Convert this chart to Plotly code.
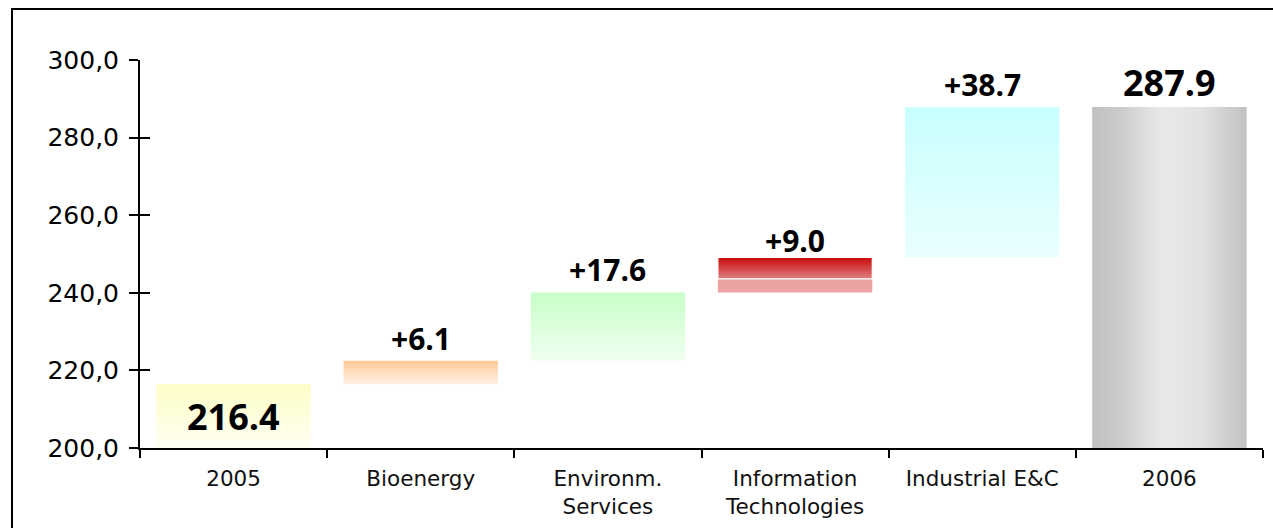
import json
import plotly.graph_objects as go

# Waterfall: net sales bridge 2005 -> 2006
categories = ["2005", "Bioenergy", "Environm.<br>Services",
              "Information<br>Technologies", "Industrial E&C", "2006"]
start_total = 216.4
changes = [6.1, 17.6, 9.0, 38.7]
end_total = 287.9
# Information Technologies is shown as two stacked parts (lower, upper)
it_parts = [3.5, 5.5]

y_ticks = [200, 220, 240, 260, 280, 300]
y_ticktext = ["200,0", "220,0", "240,0", "260,0", "280,0", "300,0"]

# Fill gradients (top -> bottom, or left -> right for the total bar)
gradients = [
    {"id": "g2005", "horizontal": False, "stops": [[0, "#fdfdc6"], [1, "#fffff4"]]},
    {"id": "gbio", "horizontal": False, "stops": [[0, "#ffca98"], [1, "#fff0e6"]]},
    {"id": "genv", "horizontal": False, "stops": [[0, "#c8fec8"], [1, "#effff0"]]},
    {"id": "gitlo", "horizontal": False, "stops": [[0, "#eba0a0"], [1, "#eda4a4"]]},
    {"id": "githi", "horizontal": False, "stops": [[0, "#c80a0a"], [1, "#e08080"]]},
    {"id": "gind", "horizontal": False, "stops": [[0, "#c8ffff"], [1, "#eaffff"]]},
    {"id": "g2006", "horizontal": True,
     "stops": [[0, "#c0c0c0"], [0.2, "#cdcdcd"], [0.45, "#e9e9e9"],
               [0.7, "#e2e2e2"], [1, "#c2c2c2"]]},
]
fallback = ["#fefed8", "#ffdcb8", "#dcffdc", "#eca2a2", "#d84040", "#dcffff", "#d6d6d6"]

BAR_W = 0.825

# bases and heights of every drawn segment
bases, heights, cats = [], [], []
bases.append(200.0); heights.append(start_total - 200.0); cats.append(categories[0])
level = start_total
for cat, ch in zip(categories[1:5], changes):
    if cat.startswith("Information"):
        sub = level
        for part in it_parts:
            bases.append(sub); heights.append(part); cats.append(cat)
            sub += part
    else:
        bases.append(level); heights.append(ch); cats.append(cat)
    level += ch
bases.append(200.0); heights.append(end_total - 200.0); cats.append(categories[5])

fig = go.Figure()
for i, (c, b, h) in enumerate(zip(cats, bases, heights)):
    is_it_upper = (i == 4)
    fig.add_trace(go.Bar(
        x=[c], y=[h], base=[b], width=BAR_W,
        marker=dict(color=fallback[i],
                    line=dict(color="white", width=1.2 if is_it_upper else 0)),
        showlegend=False, hoverinfo="skip",
    ))

# helper trace so the inner tick marks of the value axis get drawn
fig.add_trace(go.Scatter(x=[categories[0]], y=[None], yaxis="y2",
                         showlegend=False, hoverinfo="skip"))

bold = dict(family="Open Sans", size=30, color="black", weight="bold")
bold_big = dict(family="Open Sans", size=36, color="black", weight="bold")

# value labels (x given as category index)
fig.add_annotation(x=0, y=200 + (start_total - 200) / 2,
                   text=f"{start_total:.1f}", showarrow=False, font=bold_big,
                   yanchor="middle")
label_shift = [0, 0, -6, 0]
level = start_total
for idx, (ch, sh) in enumerate(zip(changes, label_shift), start=1):
    level += ch
    fig.add_annotation(x=idx, y=level, text=f"{ch:+.1f}", showarrow=False,
                       font=bold, yanchor="bottom", yshift=sh)
fig.add_annotation(x=5, y=end_total, text=f"{end_total:.1f}",
                   showarrow=False, font=bold_big, yanchor="bottom", yshift=-2)

# outer frame
fig.add_shape(type="rect", xref="paper", yref="paper",
              x0=(12 - 140) / 1123, x1=1.05, y0=-0.3, y1=(448 - 9) / 388,
              line=dict(color="black", width=2), fillcolor="rgba(0,0,0,0)")

fig.update_layout(
    width=1273, height=528,
    margin=dict(l=140, r=10, t=60, b=80),
    paper_bgcolor="white", plot_bgcolor="white",
    barmode="overlay", hovermode=False,
    font=dict(family="DejaVu Sans", color="black"),
    xaxis=dict(type="category", categoryorder="array", categoryarray=categories,
               showline=True, linecolor="black", linewidth=2,
               ticks="outside", ticklen=8, tickwidth=1.5, tickcolor="black",
               tickson="boundaries", showgrid=False, zeroline=False,
               ticklabelstandoff=10,
               tickfont=dict(family="DejaVu Sans", size=21.5, color="#111"),
               range=[-0.5, 5.5]),
    yaxis=dict(range=[200, 300], tickvals=y_ticks, ticktext=y_ticktext,
               showline=True, linecolor="black", linewidth=2,
               ticks="outside", ticklen=9, tickwidth=1.5, tickcolor="black",
               showgrid=False, zeroline=False, ticklabelstandoff=5,
               tickfont=dict(family="DejaVu Sans", size=25, color="black")),
    yaxis2=dict(range=[200, 300], tickvals=y_ticks, overlaying="y", side="left",
                showticklabels=False, ticks="inside", ticklen=10, tickwidth=1.5,
                tickcolor="black", showgrid=False, zeroline=False, showline=False),
)

paint_js = """
var gd = document.getElementById('{plot_id}');
var grads = GRADS;
function paint() {
  var svg = gd.querySelector('svg.main-svg');
  if (!svg) return;
  var defs = svg.querySelector('defs');
  var ns = 'http://www.w3.org/2000/svg';
  grads.forEach(function (g) {
    if (document.getElementById(g.id)) return;
    var lg = document.createElementNS(ns, 'linearGradient');
    lg.setAttribute('id', g.id);
    lg.setAttribute('x1', '0'); lg.setAttribute('y1', '0');
    lg.setAttribute('x2', g.horizontal ? '1' : '0');
    lg.setAttribute('y2', g.horizontal ? '0' : '1');
    g.stops.forEach(function (s) {
      var st = document.createElementNS(ns, 'stop');
      st.setAttribute('offset', s[0]);
      st.setAttribute('stop-color', s[1]);
      lg.appendChild(st);
    });
    defs.appendChild(lg);
  });
  var traces = gd.querySelectorAll('.barlayer .trace');
  traces.forEach(function (t, i) {
    var p = t.querySelector('path');
    if (p && grads[i]) p.style.fill = 'url(#' + grads[i].id + ')';
  });
}
paint();
gd.on('plotly_afterplot', paint);
""".replace("GRADS", json.dumps(gradients))

fig.write_html("out.html", post_script=paint_js)
